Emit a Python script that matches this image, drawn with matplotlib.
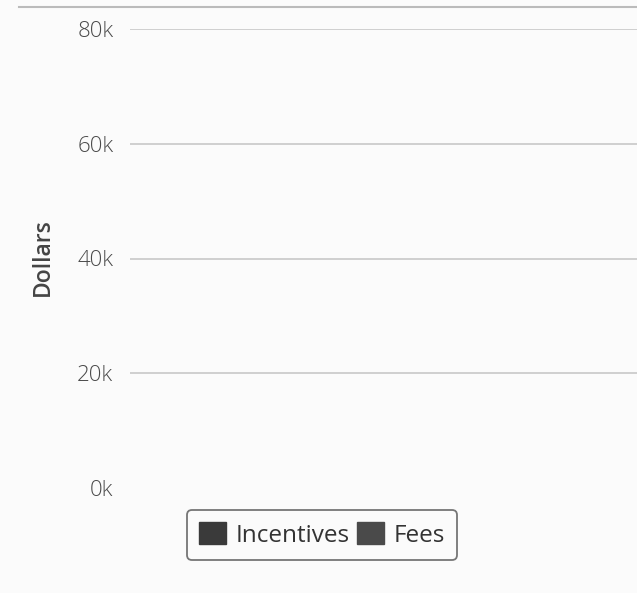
import numpy as np
import matplotlib
matplotlib.use("Agg")
import matplotlib.pyplot as plt
from matplotlib.patches import Patch
from matplotlib.lines import Line2D

# Data (the chart shows no visible bars)
categories = []
incentives = []
fees = []
y_ticks = [0, 20000, 40000, 60000, 80000]
y_tick_labels = ["0k", "20k", "40k", "60k", "80k"]
series_names = ["Incentives", "Fees"]
series_colors = ["#3a3a3a", "#4a4a4a"]


def main():
    plt.rcParams['font.family'] = ['Open Sans', 'DejaVu Sans']
    fig = plt.figure(figsize=(6.37, 5.93), dpi=100)
    fig.patch.set_facecolor("#fbfbfb")
    ax = fig.add_axes([130 / 637, 1 - 488 / 593, 1 - 130 / 637, (488 - 29) / 593])
    ax.set_facecolor("#fbfbfb")

    x = np.arange(len(categories))
    ax.bar(x, incentives, color=series_colors[0], width=0.6)
    ax.bar(x, fees, bottom=incentives, color=series_colors[1], width=0.6)

    ax.set_ylim(0, 80000)
    ax.set_xlim(0, 1)
    ax.set_yticks(y_ticks)
    ax.set_yticklabels(y_tick_labels)
    ax.tick_params(axis="y", length=0, pad=12, labelsize=16, labelcolor="#4a4a4a")
    for t in ax.get_yticklabels():
        t.set_fontweight("light")
    ax.set_xticks([])
    for t in y_ticks[1:]:
        ax.axhline(t, color="#c4c4c4", linewidth=1.1, zorder=0)
    for s in ax.spines.values():
        s.set_visible(False)

    fig.text(43 / 637, 1 - 257 / 593, "Dollars", rotation=90, ha="center", va="center",
             fontsize=16.5, color="#444444", fontweight="semibold")

    # top rule
    fig.add_artist(Line2D([0.03, 1.0], [1 - 7 / 593, 1 - 7 / 593], color="#bbbbbb", linewidth=1.5))

    handles = [Patch(facecolor=c, edgecolor=c) for c in series_colors]
    leg = fig.legend(handles, series_names, loc="center", bbox_to_anchor=(322 / 637, 1 - 535 / 593),
                     ncol=2, fontsize=17.5, frameon=True, fancybox=True, handlelength=1.1,
                     handleheight=1.0, handletextpad=0.4, columnspacing=0.3, borderpad=0.5,
                     borderaxespad=0)
    leg.get_frame().set_edgecolor("#555555")
    leg.get_frame().set_linewidth(1.3)
    leg.get_frame().set_facecolor("#fbfbfb")
    for t in leg.get_texts():
        t.set_color("#333333")

    fig.savefig("out.png", dpi=100, facecolor=fig.get_facecolor())


if __name__ == "__main__":
    main()
